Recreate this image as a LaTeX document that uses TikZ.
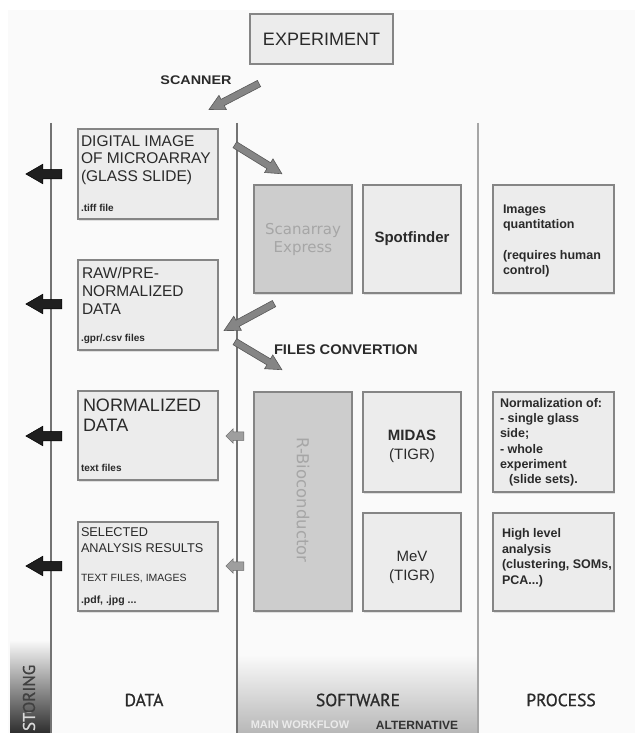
\documentclass[tikz,border=0pt]{standalone}
\usepackage{fontspec}
\setmainfont{Liberation Sans}
\newfontfamily\ptsans[FakeBold=0.9]{PT Sans}
\newfontfamily\dvsans{DejaVu Sans}
\usetikzlibrary{shapes.arrows,calc,shadows}

\definecolor{panelc}{HTML}{FAFAFA}
\definecolor{boxfill}{HTML}{ECECEC}
\definecolor{boxdraw}{HTML}{858585}
\definecolor{darkfill}{HTML}{CDCDCD}
\definecolor{textc}{HTML}{2A2A2A}
\definecolor{ghost}{HTML}{A6A6A6}

\tikzset{
  box/.style={draw=boxdraw, line width=1.3pt, fill=boxfill, anchor=north west,
    drop shadow={shadow xshift=1pt, shadow yshift=-1.5pt, opacity=0.22}},
  darkbox/.style={fill=darkfill},
  vline/.style={draw=black!55, line width=1.1pt},
  fatgray/.style={single arrow, draw=black!65, fill=black!48, line width=0.6pt,
    inner xsep=0pt, inner ysep=3.2pt, single arrow head extend=4.5pt,
    single arrow tip angle=55, single arrow head indent=0pt},
  blackarr/.style={single arrow, draw=black, fill=black!88, line width=0.5pt,
    inner xsep=0pt, inner ysep=4.5pt, single arrow head extend=5pt,
    single arrow tip angle=60, single arrow head indent=0pt},
  smallgray/.style={single arrow, draw=black!60, fill=black!38, line width=0.5pt,
    inner xsep=0pt, inner ysep=4pt, single arrow head extend=3pt,
    single arrow tip angle=90, single arrow head indent=0pt},
  boxtext/.style={anchor=north west, align=left, text=textc},
}

\newcommand\fatarrow[4][]{%
  \path let \p1=($(#4)-(#3)$), \n1={atan2(\y1,\x1)}, \n2={veclen(\x1,\y1)} in
    node[#1, rotate=\n1, minimum height=\n2] (#2) at ($(#3)!0.5!(#4)$) {};}

\begin{document}
\begin{tikzpicture}[x=1pt,y=-1pt, every node/.style={inner sep=0pt, outer sep=0pt}]
\useasboundingbox (0,0) rectangle (635,733);
\fill[white] (0,0) rectangle (635,733);
\fill[panelc] (8,10) rectangle (635,733);

% bottom gradients
\shade[top color=panelc, bottom color=black!28] (237,655) rectangle (478,733);
\shade[top color=panelc, bottom color=black!82] (10,640) rectangle (51,733);

% column lines
\draw[vline] (51,123) -- (51,733);
\draw[vline] (237,123) -- (237,733);
\draw[vline, draw=black!35] (478,123) -- (478,733);

% experiment
\node[box, minimum width=143pt, minimum height=50pt] (exp) at (250,14) {};
\node[font=\fontsize{18}{18}\selectfont, text=textc] (expt) at (exp.center) {EXPERIMENT};
\node[font=\bfseries\fontsize{12.5}{12.5}\selectfont, xscale=1.15, text=textc] (scanl) at (196,80) {SCANNER};

% data boxes
\node[box, minimum width=140pt, minimum height=90pt] (d1) at (78,129) {};
\node[boxtext, font=\fontsize{15.5}{17.5}\selectfont] (d1t) at (81,135.5) {DIGITAL IMAGE\\OF MICROARRAY\\(GLASS SLIDE)};
\node[boxtext, font=\bfseries\fontsize{10}{12}\selectfont] (d1f) at (81,204.5) {.tiff file};

\node[box, minimum width=140pt, minimum height=90pt] (d2) at (78,260) {};
\node[boxtext, font=\fontsize{15.5}{18}\selectfont] (d2t) at (82,267.5) {RAW/PRE-\\NORMALIZED\\DATA};
\node[boxtext, font=\bfseries\fontsize{10}{12}\selectfont] (d2f) at (81,334.5) {.gpr/.csv files};

\node[box, minimum width=140pt, minimum height=89pt] (d3) at (78,391) {};
\node[boxtext, font=\fontsize{18}{20}\selectfont] (d3t) at (83,398.5) {NORMALIZED\\DATA};
\node[boxtext, font=\bfseries\fontsize{10}{12}\selectfont] (d3f) at (81,464) {text files};

\node[box, minimum width=140pt, minimum height=89pt] (d4) at (78,522) {};
\node[boxtext, font=\fontsize{12.7}{16}\selectfont] (d4t) at (81,528) {SELECTED\\ANALYSIS RESULTS};
\node[boxtext, font=\fontsize{10.5}{12}\selectfont] (d4s) at (81,574) {TEXT FILES, IMAGES};
\node[boxtext, font=\bfseries\fontsize{10.5}{12}\selectfont] (d4f) at (81,596) {.pdf, .jpg ...};

% software boxes
\node[box, darkbox, minimum width=98pt, minimum height=108pt] (scan) at (254,185) {};
\node[font=\dvsans\fontsize{15}{18}\selectfont, text=ghost, align=center] (scant) at (scan.center) {Scanarray\\Express};
\node[box, minimum width=98pt, minimum height=108pt] (spot) at (363,185) {};
\node[font=\bfseries\fontsize{15}{18}\selectfont, text=textc] (spott) at (spot.center) {Spotfinder};

\node[box, darkbox, minimum width=98pt, minimum height=219pt] (rbio) at (254,392) {};
\node[font=\dvsans\fontsize{16.5}{18}\selectfont, text=ghost, rotate=-90] (rbiot) at (303,500) {R-Bioconductor};
\node[box, minimum width=98pt, minimum height=100pt] (midas) at (363,392) {};
\node[font=\fontsize{15}{19}\selectfont, text=textc, align=center] (midast) at (412,446.5) {\textbf{MIDAS}\\(TIGR)};
\node[box, minimum width=98pt, minimum height=98pt] (mev) at (363,513) {};
\node[font=\fontsize{15}{19}\selectfont, text=textc, align=center] (mevt) at (412,567.5) {MeV\\(TIGR)};

% process boxes
\node[box, minimum width=121pt, minimum height=108pt] (p1) at (493,185) {};
\node[boxtext, font=\bfseries\fontsize{12.5}{15}\selectfont] (p1a) at (503,205) {Images\\quantitation};
\node[boxtext, font=\bfseries\fontsize{12.5}{15}\selectfont] (p1b) at (503,250.5) {(requires human\\control)};
\node[box, minimum width=121pt, minimum height=100pt] (p2) at (493,392) {};
\node[boxtext, font=\bfseries\fontsize{12.5}{15.2}\selectfont] (p2t) at (500,398.5) {Normalization of:\\- single glass\\side;\\- whole\\experiment\\\hspace*{9pt}(slide sets).};
\node[box, minimum width=121pt, minimum height=98pt] (p3) at (493,513) {};
\node[boxtext, font=\bfseries\fontsize{12.5}{15.7}\selectfont] (p3t) at (502,528.5) {High level\\analysis\\(clustering, SOMs,\\PCA...)};

\node[font=\bfseries\fontsize{14}{14}\selectfont, xscale=1.05, text=textc, anchor=west] (fconv) at (274,350) {FILES CONVERTION};

% bottom labels
\node[font=\ptsans\fontsize{17.5}{18}\selectfont, text=textc] (ldata) at (144,700) {DATA};
\node[font=\ptsans\fontsize{17.5}{18}\selectfont, text=textc] (lsoft) at (358,700) {SOFTWARE};
\node[font=\ptsans\fontsize{17.5}{18}\selectfont, text=textc] (lproc) at (561,700) {PROCESS};
\node[font=\bfseries\fontsize{11}{11}\selectfont, text=black!8] (lmain) at (300,725) {MAIN WORKFLOW};
\node[font=\bfseries\fontsize{12}{12}\selectfont, text=black!80] (lalt) at (417,725) {ALTERNATIVE};
\begin{scope}
  \clip (10,640) rectangle (51,712);
  \node[font=\ptsans\fontsize{17}{17}\selectfont, text=black!75, rotate=90, anchor=west] (storA) at (29,731) {STORING};
\end{scope}
\begin{scope}
  \clip (10,712) rectangle (51,733);
  \node[font=\ptsans\fontsize{17}{17}\selectfont, text=white!85!black, rotate=90, anchor=west] (storB) at (29,731) {STORING};
\end{scope}

% arrow end points
\coordinate (scS) at (262,82);  \coordinate (scE) at (212,108);
\coordinate (imS) at (232,143); \coordinate (imE) at (279,172);
\coordinate (faS) at (277,302); \coordinate (faE) at (227,329);
\coordinate (fbS) at (232,340); \coordinate (fbE) at (279,368);
\coordinate (k1S) at (66,174);  \coordinate (k1E) at (30,174);
\coordinate (k2S) at (66,304);  \coordinate (k2E) at (30,304);
\coordinate (k3S) at (66,436);  \coordinate (k3E) at (30,436);
\coordinate (k4S) at (66,566);  \coordinate (k4E) at (30,566);
\coordinate (g1S) at (246,436); \coordinate (g1E) at (228,436);
\coordinate (g2S) at (246,566); \coordinate (g2E) at (228,566);

\fatarrow[fatgray]{ascan}{scS}{scE}
\fatarrow[fatgray]{aimg}{imS}{imE}
\fatarrow[fatgray]{afa}{faS}{faE}
\fatarrow[fatgray]{afb}{fbS}{fbE}
\fatarrow[blackarr]{ak1}{k1S}{k1E}
\fatarrow[blackarr]{ak2}{k2S}{k2E}
\fatarrow[blackarr]{ak3}{k3S}{k3E}
\fatarrow[blackarr]{ak4}{k4S}{k4E}
\fatarrow[smallgray]{ag1}{g1S}{g1E}
\fatarrow[smallgray]{ag2}{g2S}{g2E}
\end{tikzpicture}
\end{document}
